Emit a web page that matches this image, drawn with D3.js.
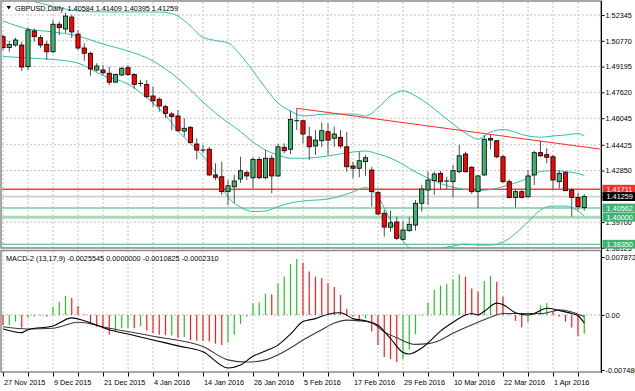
<!DOCTYPE html>
<html><head><meta charset="utf-8">
<script src="https://cdn.jsdelivr.net/npm/d3@7"></script>
<style>
html,body{margin:0;padding:0;background:#fff;overflow:hidden}
svg{display:block;font-family:"Liberation Sans",Arial,sans-serif}
</style></head>
<body><svg id="c" width="635" height="391"></svg>
<script>
// ---------------- DATA ----------------
const symbolTitle = "GBPUSD,Daily  1.40584 1.41409 1.40395 1.41259";
const macdTitle = "MACD-2 (13,17,9) -0.0025545 0.0000000 -0.0010825 -0.0002310";
const dateLabels = ["27 Nov 2015","9 Dec 2015","21 Dec 2015","4 Jan 2016","14 Jan 2016","26 Jan 2016","5 Feb 2016","17 Feb 2016","29 Feb 2016","10 Mar 2016","22 Mar 2016","1 Apr 2016"];
const dateIdx = [0,8,16,24,32,40,48,56,64,72,80,88];
const priceTicks = [1.52345,1.50770,1.49195,1.47620,1.46045,1.44425,1.42850,1.41275,1.39700,1.38125];
const hiddenPriceTicks = [1.41275];
const macdTicks = [0.007872,0,-0.007480];
const macdTickLabels = ["0.007872","0.00","-0.007480"];

const open  = [1.5102,1.5036,1.5051,1.5051,1.4919,1.5137,1.5096,1.5056,1.5010,1.5178,1.5149,1.5222,1.5118,1.5033,1.5001,1.4899,1.4899,1.4879,1.4825,1.4868,1.4913,1.4872,1.4817,1.4811,1.4740,1.4720,1.4675,1.4630,1.4618,1.4526,1.4549,1.4447,1.4410,1.4415,1.4258,1.4247,1.4156,1.4186,1.4233,1.4272,1.4241,1.4353,1.4241,1.4360,1.4252,1.4427,1.4415,1.4589,1.4589,1.4491,1.4435,1.4467,1.4522,1.4482,1.4488,1.4430,1.4313,1.4299,1.4339,1.4288,1.4150,1.4024,1.3939,1.3971,1.3865,1.3918,1.3952,1.4085,1.4166,1.4223,1.4268,1.4221,1.4217,1.4278,1.4386,1.4305,1.4156,1.4258,1.4480,1.4467,1.4369,1.4217,1.4121,1.4156,1.4125,1.4258,1.4394,1.4382,1.4369,1.4217,1.4272,1.4166,1.4121,1.40584];
const high  = [1.5112,1.5076,1.5096,1.5071,1.5157,1.5153,1.5112,1.5076,1.5204,1.5194,1.5247,1.5234,1.5143,1.5062,1.5010,1.4940,1.4929,1.4919,1.4877,1.4919,1.4929,1.4879,1.4838,1.4838,1.4797,1.4732,1.4685,1.4644,1.4654,1.4604,1.4557,1.4482,1.4441,1.4430,1.4329,1.4339,1.4227,1.4258,1.4369,1.4284,1.4369,1.4368,1.4410,1.4380,1.4447,1.4451,1.4650,1.4665,1.4593,1.4553,1.4532,1.4579,1.4573,1.4553,1.4532,1.4522,1.4339,1.4400,1.4380,1.4308,1.4160,1.4044,1.4040,1.4003,1.3979,1.3999,1.4105,1.4197,1.4278,1.4278,1.4284,1.4247,1.4319,1.4441,1.4400,1.4313,1.4258,1.4502,1.4502,1.4471,1.4380,1.4231,1.4166,1.4166,1.4288,1.4406,1.4467,1.4421,1.4380,1.4288,1.4282,1.4176,1.4150,1.41409];
const low   = [1.5021,1.5010,1.5041,1.4893,1.4899,1.5071,1.5035,1.4960,1.5001,1.5112,1.5125,1.5094,1.5021,1.4954,1.4864,1.4888,1.4868,1.4807,1.4819,1.4864,1.4862,1.4783,1.4797,1.4726,1.4675,1.4644,1.4604,1.4532,1.4522,1.4491,1.4453,1.4353,1.4390,1.4252,1.4227,1.4136,1.4075,1.4087,1.4209,1.4227,1.4176,1.4233,1.4231,1.4146,1.4245,1.4390,1.4386,1.4532,1.4451,1.4349,1.4380,1.4430,1.4380,1.4430,1.4421,1.4278,1.4237,1.4244,1.4252,1.4064,1.4013,1.3881,1.3911,1.3861,1.3858,1.3911,1.3918,1.4034,1.4075,1.4136,1.4166,1.4170,1.4121,1.4268,1.4272,1.4142,1.4054,1.4252,1.4415,1.4360,1.4211,1.4115,1.4060,1.4115,1.4121,1.4197,1.4369,1.4329,1.4170,1.4176,1.4160,1.4003,1.4044,1.40395];
const close = [1.5035,1.5054,1.5082,1.4917,1.5143,1.5102,1.5051,1.5010,1.5178,1.5157,1.5228,1.5131,1.5033,1.5001,1.4905,1.4923,1.4882,1.4824,1.4872,1.4909,1.4872,1.4811,1.4817,1.4736,1.4711,1.4679,1.4634,1.4614,1.4528,1.4543,1.4455,1.4410,1.4410,1.4258,1.4244,1.4156,1.4192,1.4221,1.4284,1.4252,1.4353,1.4241,1.4360,1.4252,1.4430,1.4406,1.4598,1.4589,1.4508,1.4430,1.4471,1.4528,1.4471,1.4508,1.4435,1.4308,1.4299,1.4345,1.4363,1.4156,1.4020,1.3940,1.3966,1.3871,1.3922,1.3957,1.4085,1.4172,1.4227,1.4264,1.4217,1.4221,1.4284,1.4375,1.4278,1.4156,1.4252,1.4476,1.4471,1.4369,1.4217,1.4121,1.4156,1.4121,1.4252,1.4394,1.4375,1.4366,1.4227,1.4268,1.4162,1.4121,1.4064,1.41259];

// Bollinger bands at these bar indices
const bandIdx   = [0,4,8,12,16,20,24,26,28,30,32,34,36,38,40,42,44,46,48,52,56,58,60,62,64,66,68,70,72,74,76,78,80,84,86,88,90,92,93];
const bandUpper = [1.5375,1.5326,1.5289,1.5259,1.5253,1.5253,1.5253,1.5250,1.5228,1.5167,1.5097,1.5079,1.5064,1.4990,1.4893,1.4789,1.4697,1.4648,1.4618,1.4630,1.4630,1.4618,1.4667,1.4740,1.4772,1.4740,1.4691,1.4630,1.4569,1.4514,1.4477,1.4520,1.4535,1.4496,1.4488,1.4496,1.4502,1.4511,1.4496];
const bandMid   = [1.5198,1.5149,1.5131,1.5106,1.5057,1.5015,1.4954,1.4905,1.4847,1.4777,1.4703,1.4636,1.4578,1.4523,1.4459,1.4410,1.4380,1.4360,1.4360,1.4374,1.4398,1.4404,1.4386,1.4361,1.4322,1.4276,1.4239,1.4206,1.4184,1.4169,1.4163,1.4169,1.4187,1.4239,1.4279,1.4284,1.4279,1.4267,1.4255];
const bandLower = [1.4981,1.4972,1.4963,1.4941,1.4865,1.4813,1.4697,1.4624,1.4526,1.4450,1.4374,1.4270,1.4123,1.4062,1.4035,1.4038,1.4065,1.4087,1.4099,1.4111,1.4154,1.4181,1.4123,1.3983,1.3855,1.3788,1.3775,1.3809,1.3824,1.3836,1.3830,1.3830,1.3849,1.3971,1.4044,1.4068,1.4068,1.4038,1.4007];

// Trend line (bar index, price)
const trendIdx = [47, 95.5];
const trendPrice = [1.4665, 1.4416];

// Horizontal levels
const levelPrices = [1.41711, 1.40562, 1.40000, 1.38350];
const levelKinds  = ["red","green","pale","green"];
const bidPrice = 1.41259;

// MACD histogram (one per bar) and up(1)/down(0) colouring
const macdHist = [-0.0014,-0.0014,-0.0009,-0.0017,-0.0004,-0.0002,-0.0001,-0.0002,0.0011,0.0018,0.0026,0.0023,0.0012,0.0001,-0.0011,-0.0016,-0.0018,-0.0027,-0.0022,-0.0018,-0.0017,-0.0018,-0.0015,-0.0021,-0.0025,-0.0027,-0.0027,-0.0028,-0.0031,-0.0030,-0.0034,-0.0035,-0.0035,-0.0036,-0.0039,-0.0041,-0.0037,-0.0027,-0.0012,-0.0002,0.0016,0.0017,0.0029,0.0028,0.0043,0.0052,0.0069,0.0076,0.0071,0.0059,0.0052,0.0050,0.0043,0.0038,0.0027,0.0008,-0.0002,-0.0007,-0.0005,-0.0022,-0.0041,-0.0057,-0.0060,-0.0064,-0.0060,-0.0047,-0.0026,-0.0001,0.0017,0.0034,0.0040,0.0042,0.0048,0.0055,0.0052,0.0036,0.0032,0.0046,0.0053,0.0045,0.0025,0.0001,-0.0008,-0.0017,-0.0010,0.0002,0.0013,0.0016,0.0004,-0.0002,-0.0009,-0.0017,-0.0029,-0.0025545];
const macdUp   = [0,1,1,0,1,1,1,0,1,1,1,0,0,0,0,0,0,0,1,1,1,0,1,0,0,0,0,1,0,1,0,0,0,0,0,0,1,1,1,1,1,1,1,0,1,1,1,1,0,0,0,0,0,0,0,0,0,0,1,0,0,0,0,0,1,1,1,1,1,1,1,1,1,1,0,0,0,1,1,0,0,0,0,0,1,1,1,1,0,0,0,0,0,1];

// MACD main line and signal line, read at these bar indices
const macdLineIdx = [0,3,4,8,11,13,17,20,24,28,32,36,38,40,42,44,46,48,50,52,54,56,58,60,62,64,65,67,68,70,72,74,75,76,77,79,80,82,84,85,87,89,91,92,93];
const macdLine    = [-0.0019,-0.0024,-0.0020,-0.0015,-0.0004,-0.0008,-0.0020,-0.0026,-0.0034,-0.0042,-0.0050,-0.0072,-0.0068,-0.0056,-0.0049,-0.0041,-0.0026,-0.0009,-0.0005,0.0001,0.0003,-0.0005,-0.0008,-0.0014,-0.0032,-0.0051,-0.0053,-0.0045,-0.0038,-0.0022,-0.0010,0.0000,0.0002,0.0000,0.0005,0.0016,0.0014,0.0003,0.0000,0.0002,0.0009,0.0006,0.0002,-0.0001,-0.0010825];
const signalIdx   = [0,4,8,12,17,24,32,36,39,42,46,48,51,53,55,57,59,61,63,66,68,70,72,74,76,78,80,84,86,88,89,91,93];
const signalLine  = [-0.0016,-0.0019,-0.0018,-0.0010,-0.0018,-0.0029,-0.0043,-0.0061,-0.0064,-0.0061,-0.0045,-0.0034,-0.0020,-0.0011,-0.0007,-0.0008,-0.0011,-0.0023,-0.0031,-0.0040,-0.0039,-0.0034,-0.0025,-0.0017,-0.0010,-0.0003,0.0002,0.0002,0.0002,0.0005,0.0007,0.0004,-0.000231];

// ---------------- DRAW ----------------
const svg = d3.select("#c");
const FS = 7.3;
const L = 2, R = 601, mTop = 2, mBot = 248, dTop = 251, dBot = 372;
const nBars = close.length;
const x  = d3.scaleLinear().domain([0, 93]).range([3, 584.25]);
const y  = d3.scaleLinear().domain([1.38125, 1.52345]).range([247.94, 15]);
const ym = d3.scaleLinear().domain([-0.00748, 0.007872]).range([370, 257]);

const defs = svg.append("defs");
defs.append("clipPath").attr("id","cm").append("rect").attr("x",L).attr("y",mTop).attr("width",R-L).attr("height",mBot-mTop);
defs.append("clipPath").attr("id","cd").append("rect").attr("x",L).attr("y",dTop).attr("width",R-L).attr("height",dBot-dTop);

svg.append("rect").attr("width",635).attr("height",391).attr("fill","#fff");

// grids
const gridIdx = d3.range(0, 93, 4);
const gm = svg.append("g").attr("clip-path","url(#cm)");
const gd = svg.append("g").attr("clip-path","url(#cd)");
[ [gm,mTop,mBot], [gd,dTop,dBot] ].forEach(([g,t,b])=>{
  g.selectAll(null).data(gridIdx).join("line")
    .attr("x1",d=>x(d)).attr("x2",d=>x(d)).attr("y1",t).attr("y2",b)
    .attr("stroke","#c4c4c4").attr("stroke-width",1).attr("stroke-dasharray","2,2");
});
gm.selectAll(null).data(priceTicks).join("line")
  .attr("x1",L).attr("x2",R).attr("y1",d=>y(d)).attr("y2",d=>y(d))
  .attr("stroke","#c4c4c4").attr("stroke-dasharray","2,2");
gd.append("line").attr("x1",L).attr("x2",R).attr("y1",ym(0)).attr("y2",ym(0))
  .attr("stroke","#b8b8b8").attr("stroke-dasharray","2,2");

// horizontal levels
gm.append("line").attr("x1",L).attr("x2",R).attr("y1",y(bidPrice)).attr("y2",y(bidPrice))
  .attr("stroke","#cfcfcf").attr("stroke-width",1.6);
const levelStroke = {red:"#ff3a3a", green:"#3cb371", pale:"#a6ddb8"};
const levelWidth  = {red:1.5, green:1.2, pale:3};
levelPrices.forEach((p,i)=>{
  gm.append("line").attr("x1",L).attr("x2",R).attr("y1",y(p)).attr("y2",y(p))
    .attr("stroke",levelStroke[levelKinds[i]]).attr("stroke-width",levelWidth[levelKinds[i]]);
});

// bollinger bands
const bandLine = d3.line().x(d=>x(d[0])).y(d=>y(d[1])).curve(d3.curveMonotoneX);
[bandUpper, bandMid, bandLower].forEach(arr=>{
  gm.append("path").attr("d", bandLine(bandIdx.map((b,i)=>[b,arr[i]])))
    .attr("fill","none").attr("stroke","#35bcae").attr("stroke-width",1);
});

// trend line
gm.append("line").attr("x1",x(trendIdx[0])).attr("y1",y(trendPrice[0]))
  .attr("x2",x(trendIdx[1])).attr("y2",y(trendPrice[1]))
  .attr("stroke","#ff2a2a").attr("stroke-width",1.1);

// candles
const candles = gm.selectAll("g.c").data(d3.range(nBars)).join("g").attr("class","c");
candles.append("line")
  .attr("x1",i=>x(i)).attr("x2",i=>x(i)).attr("y1",i=>y(high[i])).attr("y2",i=>y(low[i]))
  .attr("stroke","#505050").attr("stroke-width",1);
candles.filter(i=>open[i]!==close[i]).append("rect")
  .attr("x",i=>x(i)-2.1).attr("width",4.2)
  .attr("y",i=>y(Math.max(open[i],close[i])))
  .attr("height",i=>Math.max(0.8, Math.abs(y(open[i])-y(close[i]))))
  .attr("fill",i=>close[i]>open[i]?"#3cb371":"#ff0000")
  .attr("stroke","#000").attr("stroke-width",0.8);
candles.filter(i=>open[i]===close[i]).append("line")
  .attr("x1",i=>x(i)-2.5).attr("x2",i=>x(i)+2.5).attr("y1",i=>y(close[i])).attr("y2",i=>y(close[i]))
  .attr("stroke","#000").attr("stroke-width",1);

// MACD histogram
gd.selectAll(null).data(d3.range(nBars)).join("line")
  .attr("x1",i=>x(i)).attr("x2",i=>x(i)).attr("y1",ym(0)).attr("y2",i=>ym(macdHist[i]))
  .attr("stroke",i=>macdUp[i]?"#22c422":"#ff1a1a").attr("stroke-width",1.2);
const mline = d3.line().x(d=>x(d[0])).y(d=>ym(d[1])).curve(d3.curveMonotoneX);
gd.append("path").attr("d", mline(signalIdx.map((b,i)=>[b,signalLine[i]])))
  .attr("fill","none").attr("stroke","#3a3a3a").attr("stroke-width",1.1);
gd.append("path").attr("d", mline(macdLineIdx.map((b,i)=>[b,macdLine[i]])))
  .attr("fill","none").attr("stroke","#000").attr("stroke-width",1.1);

// frames
svg.append("rect").attr("x",1).attr("y",1).attr("width",R-1).attr("height",mBot-1)
  .attr("fill","none").attr("stroke","#8a8a8a").attr("stroke-width",1.5);
svg.append("rect").attr("x",1).attr("y",dTop-0.5).attr("width",R-1).attr("height",dBot-dTop+0.5)
  .attr("fill","none").attr("stroke","#8a8a8a").attr("stroke-width",1.5);
svg.append("line").attr("x1",R+0.5).attr("x2",R+0.5).attr("y1",1).attr("y2",dBot+1)
  .attr("stroke","#000").attr("stroke-width",1);

// axes
const ax = svg.append("g").attr("transform",`translate(${R+0.5},0)`)
  .call(d3.axisRight(y).tickValues(priceTicks).tickFormat(d3.format(".5f")).tickSize(3).tickPadding(1));
ax.selectAll(".tick").filter(d=>hiddenPriceTicks.includes(d)).select("text").remove();
const axd = svg.append("g").attr("transform",`translate(${R+0.5},0)`)
  .call(d3.axisRight(ym).tickValues(macdTicks).tickFormat((d,i)=>macdTickLabels[i]).tickSize(3).tickPadding(1));
const axx = svg.append("g").attr("transform",`translate(0,${dBot+0.5})`)
  .call(d3.axisBottom(x).tickValues(gridIdx)
    .tickFormat(d=>{ const k = dateIdx.indexOf(d); return k>=0 ? dateLabels[k] : ""; })
    .tickSize(4).tickPadding(3));
[ax,axd,axx].forEach(g=>{
  g.select(".domain").remove();
  g.selectAll("text").attr("font-size",FS).attr("fill","#000").attr("font-family",'"Liberation Sans",Arial,sans-serif');
  g.selectAll("line").attr("stroke","#000");
});
axx.selectAll(".tick text").filter(function(){ return this.textContent===""; }).remove();
axx.selectAll("text").attr("text-anchor","start").attr("dx",0).attr("x",0.5);

// level label boxes
const boxFill = {red:"#f03232", green:"#3cb371", pale:"#3cb371"};
const boxes = levelPrices.map((p,i)=>({p, fill:boxFill[levelKinds[i]]}));
boxes.push({p:bidPrice, fill:"#000"});
boxes.forEach(b=>{
  svg.append("rect").attr("x",R+1.5).attr("y",y(b.p)-4.4).attr("width",40).attr("height",8.8).attr("fill",b.fill);
  svg.append("text").attr("x",R+5.5).attr("y",y(b.p)+2.6).attr("font-size",FS).attr("fill","#fff")
    .text(d3.format(".5f")(b.p));
});

// titles
svg.append("path").attr("d","M6.5,6 L11,6 L8.75,9.5 Z").attr("fill","#000");
svg.append("text").attr("x",15).attr("y",11).attr("font-size",FS).attr("fill","#000")
  .attr("textLength",163).attr("lengthAdjust","spacing").style("white-space","pre").text(symbolTitle);
svg.append("text").attr("x",6).attr("y",261).attr("font-size",FS).attr("fill","#000").text(macdTitle);
</script>
</body></html>
